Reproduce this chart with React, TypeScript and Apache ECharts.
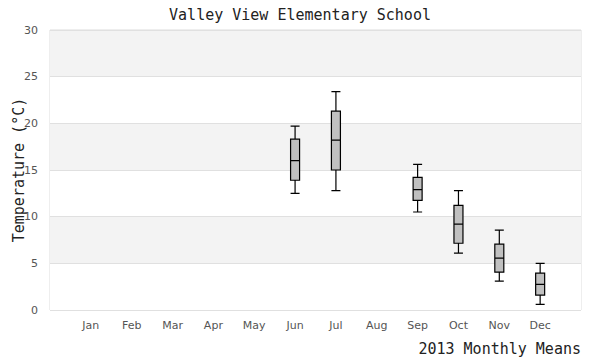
import React, { useEffect, useRef } from "react";
import * as echarts from "echarts";

const months = ["Jan", "Feb", "Mar", "Apr", "May", "Jun", "Jul", "Aug", "Sep", "Oct", "Nov", "Dec"];
const low: (number | null)[] = [null, null, null, null, null, 12.5, 12.8, null, 10.5, 6.1, 3.1, 0.6];
const q1: (number | null)[] = [null, null, null, null, null, 13.9, 15.0, null, 11.75, 7.15, 4.05, 1.6];
const median: (number | null)[] = [null, null, null, null, null, 16.0, 18.2, null, 12.9, 9.2, 5.55, 2.75];
const q3: (number | null)[] = [null, null, null, null, null, 18.3, 21.3, null, 14.2, 11.2, 7.05, 3.95];
const high: (number | null)[] = [null, null, null, null, null, 19.7, 23.4, null, 15.6, 12.8, 8.55, 5.0];
const yTicks = [0, 5, 10, 15, 20, 25, 30];

const MONO = "'DejaVu Sans Mono', 'Liberation Mono', monospace";
const SANS = "'DejaVu Sans', Verdana, sans-serif";

export default function App() {
  const ref = useRef<HTMLDivElement>(null);
  useEffect(() => {
    if (!ref.current) return;
    const chart = echarts.init(ref.current, undefined, { renderer: "svg" });
    const cats = ["", ...months, ""];
    const boxData: any[] = [["-", "-", "-", "-", "-"]];
    months.forEach((_, i) => {
      if (low[i] == null) boxData.push(["-", "-", "-", "-", "-"]);
      else boxData.push([low[i], q1[i], median[i], q3[i], high[i]]);
    });
    boxData.push(["-", "-", "-", "-", "-"]);
    chart.setOption({
      animation: false,
      backgroundColor: "#ffffff",
      title: {
        text: "Valley View Elementary School",
        left: "center",
        top: 2,
        textStyle: { fontFamily: MONO, fontSize: 15, fontWeight: "normal", color: "#222" },
      },
      grid: {
        left: 50,
        right: 19,
        top: 30,
        bottom: 50,
        show: true,
        borderColor: "#dddddd",
        borderWidth: 1,
        containLabel: false,
        outerBoundsMode: "none",
      },
      xAxis: {
        type: "category",
        data: cats,
        boundaryGap: false,
        name: "2013 Monthly Means",
        nameLocation: "end",
        nameGap: 0,
        nameMoveOverlap: false,
        nameTextStyle: {
          fontFamily: MONO,
          fontSize: 15,
          color: "#222",
          align: "right",
          verticalAlign: "top",
          padding: [31, 0, 0, 0],
        },
        axisLine: { show: false },
        axisTick: { show: false },
        splitLine: { show: false },
        axisLabel: { interval: 0, color: "#555", fontFamily: SANS, fontSize: 11, margin: 10 },
      },
      yAxis: {
        type: "value",
        min: yTicks[0],
        max: yTicks[yTicks.length - 1],
        interval: 5,
        name: "Temperature (°C)",
        nameLocation: "middle",
        nameGap: 24,
        nameMoveOverlap: false,
        nameTextStyle: { fontFamily: MONO, fontSize: 15, color: "#222" },
        axisLine: { show: false },
        axisTick: { show: false },
        axisLabel: { color: "#555", fontFamily: SANS, fontSize: 11, margin: 12 },
        splitLine: { show: true, lineStyle: { color: "#e0e0e0", width: 1 } },
        splitArea: { show: true, areaStyle: { color: ["#ffffff", "#f3f3f3"] } },
      },
      series: [
        {
          type: "boxplot",
          data: boxData,
          boxWidth: [9, 9],
          itemStyle: { color: "#c0c0c0", borderColor: "#000", borderWidth: 1.2 },
        },
      ],
    });
    return () => chart.dispose();
  }, []);
  return (
    <div
      ref={ref}
      style={{ position: "absolute", left: 0, top: 0, width: 600, height: 360 }}
    />
  );
}
